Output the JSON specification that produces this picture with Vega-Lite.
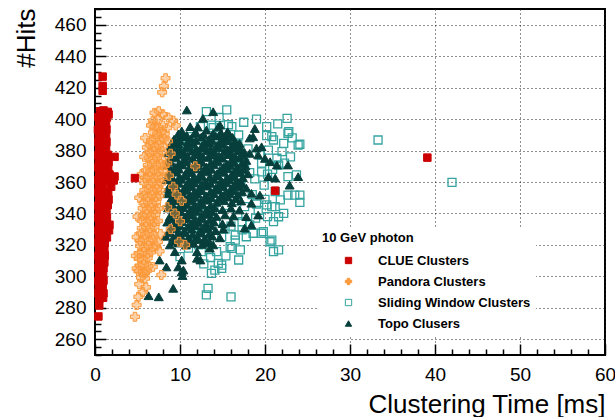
{
  "$schema": "https://vega.github.io/schema/vega-lite/v6.json",
  "width": 510,
  "height": 346,
  "autosize": "none",
  "padding": {"left": 95, "top": 9, "right": 10, "bottom": 62},
  "background": "white",
  "config": {
    "font": "Liberation Sans",
    "view": {"stroke": "black", "strokeWidth": 2}
  },
  "data": {"values": [
    {"alg":"S","t":33.3,"hits":386.7},{"alg":"S","t":42.0,"hits":359.8},{"alg":"S","t":24.1,"hits":384.0},{"alg":"S","t":24.1,"hits":347.0},
    {"alg":"S","t":23.2,"hits":388.0},{"alg":"S","t":15.5,"hits":405.8},{"alg":"S","t":13.1,"hits":404.7},{"alg":"S","t":13.7,"hits":396.2},
    {"alg":"S","t":15.7,"hits":396.4},{"alg":"S","t":12.4,"hits":395.2},{"alg":"S","t":13.9,"hits":394.6},{"alg":"S","t":16.1,"hits":395.2},
    {"alg":"S","t":16.9,"hits":389.9},{"alg":"S","t":20.2,"hits":395.2},{"alg":"S","t":22.6,"hits":400.5},{"alg":"S","t":20.8,"hits":388.8},
    {"alg":"S","t":20.2,"hits":389.5},{"alg":"S","t":21.0,"hits":386.7},{"alg":"S","t":22.2,"hits":384.6},{"alg":"S","t":23.9,"hits":383.5},
    {"alg":"S","t":20.4,"hits":380.3},{"alg":"S","t":22.0,"hits":379.3},{"alg":"S","t":21.4,"hits":375.1},{"alg":"S","t":19.4,"hits":377.2},
    {"alg":"S","t":11.2,"hits":388.8},{"alg":"S","t":10.8,"hits":382.4},{"alg":"S","t":22.7,"hits":363.4},{"alg":"S","t":23.7,"hits":364.5},
    {"alg":"S","t":21.2,"hits":353.9},{"alg":"S","t":21.8,"hits":348.6},{"alg":"S","t":23.5,"hits":351.7},{"alg":"S","t":21.2,"hits":344.3},
    {"alg":"S","t":21.0,"hits":334.8},{"alg":"S","t":19.8,"hits":328.4},{"alg":"S","t":18.6,"hits":327.4},{"alg":"S","t":17.3,"hits":329.5},
    {"alg":"S","t":16.5,"hits":323.1},{"alg":"S","t":17.8,"hits":325.2},{"alg":"S","t":20.6,"hits":322.0},{"alg":"S","t":21.0,"hits":315.7},
    {"alg":"S","t":21.6,"hits":316.8},{"alg":"S","t":16.9,"hits":310.4},{"alg":"S","t":14.3,"hits":315.7},{"alg":"S","t":14.9,"hits":307.2},
    {"alg":"S","t":14.1,"hits":304.0},{"alg":"S","t":13.7,"hits":301.9},{"alg":"S","t":15.9,"hits":318.9},{"alg":"S","t":10.0,"hits":312.5},
    {"alg":"S","t":17.1,"hits":353.8},{"alg":"S","t":17.6,"hits":344.3},{"alg":"S","t":17.3,"hits":334.8},{"alg":"S","t":18.2,"hits":332.7},
    {"alg":"S","t":16.5,"hits":326.3},{"alg":"S","t":16.1,"hits":317.8},{"alg":"S","t":14.9,"hits":325.2},{"alg":"S","t":12.5,"hits":315.7},
    {"alg":"S","t":14.5,"hits":308.3},{"alg":"S","t":14.9,"hits":305.1},{"alg":"S","t":13.3,"hits":292.4},{"alg":"S","t":13.1,"hits":288.2},
    {"alg":"S","t":16.0,"hits":287.0},{"alg":"S","t":17.1,"hits":316.8},{"alg":"S","t":19.6,"hits":327.4},{"alg":"S","t":20.8,"hits":323.1},
    {"alg":"S","t":20.8,"hits":344.3},{"alg":"S","t":19.6,"hits":372.0},{"alg":"S","t":20.9,"hits":368.0},{"alg":"S","t":22.3,"hits":372.0},
    {"alg":"S","t":19.9,"hits":358.0},{"alg":"S","t":22.7,"hits":351.7},{"alg":"S","t":18.8,"hits":362.0},{"alg":"S","t":20.0,"hits":349.0},
    {"alg":"S","t":19.2,"hits":342.0},{"alg":"S","t":22.2,"hits":340.0},{"alg":"S","t":20.3,"hits":338.0},{"alg":"S","t":18.9,"hits":337.0},
    {"alg":"S","t":22.8,"hits":392.0},{"alg":"S","t":21.5,"hits":397.0},{"alg":"S","t":19.0,"hits":400.0},{"alg":"S","t":17.5,"hits":398.0},
    {"alg":"S","t":14.6,"hits":401.0},{"alg":"S","t":16.8,"hits":384.0},{"alg":"S","t":18.0,"hits":381.0},{"alg":"S","t":23.0,"hits":376.0},
    {"alg":"S","t":20.3,"hits":365.0},{"alg":"S","t":22.7,"hits":391.0},{"alg":"S","t":21.6,"hits":370.8},{"alg":"S","t":19.6,"hits":366.5},
    {"alg":"S","t":20.2,"hits":345.4},{"alg":"S","t":21.6,"hits":337.9},{"alg":"S","t":24.1,"hits":351.7},
    {"alg":"S","t":12.5,"hits":330.0},{"alg":"S","t":13.5,"hits":322.0},{"alg":"S","t":14.2,"hits":335.0},{"alg":"S","t":15.8,"hits":340.0},
    {"alg":"S","t":16.4,"hits":348.0},{"alg":"S","t":15.0,"hits":356.0},{"alg":"S","t":17.2,"hits":362.0},{"alg":"S","t":16.6,"hits":370.0},
    {"alg":"S","t":13.0,"hits":340.0},{"alg":"S","t":11.8,"hits":326.0},{"alg":"S","t":12.2,"hits":320.0},{"alg":"S","t":15.3,"hits":330.0},
    {"alg":"S","t":14.0,"hits":345.0},{"alg":"S","t":16.0,"hits":332.0},{"alg":"S","t":13.6,"hits":312.0},{"alg":"S","t":15.4,"hits":313.0},
    {"alg":"S","t":11.0,"hits":318.0},{"alg":"S","t":12.8,"hits":308.0},{"alg":"S","t":17.6,"hits":372.0},{"alg":"S","t":18.2,"hits":366.0},
    {"alg":"S","t":15.0,"hits":378.0},{"alg":"S","t":17.0,"hits":378.0},{"alg":"S","t":12.0,"hits":384.0},{"alg":"S","t":14.4,"hits":388.0},
    {"alg":"S","t":18.5,"hits":352.0},{"alg":"S","t":19.0,"hits":346.0},{"alg":"S","t":10.5,"hits":330.0},{"alg":"S","t":11.5,"hits":340.0},
    {"alg":"S","t":9.8,"hits":355.0},{"alg":"S","t":16.8,"hits":339.0},{"alg":"S","t":10.6,"hits":383.5},

    {"alg":"T","t":10.8,"hits":405.8},{"alg":"T","t":13.9,"hits":404.7},{"alg":"T","t":12.7,"hits":400.5},{"alg":"T","t":11.2,"hits":395.2},
    {"alg":"T","t":12.1,"hits":395.0},{"alg":"T","t":14.5,"hits":395.0},{"alg":"T","t":15.6,"hits":392.0},{"alg":"T","t":18.8,"hits":394.0},
    {"alg":"T","t":18.2,"hits":388.0},{"alg":"T","t":19.0,"hits":381.6},{"alg":"T","t":20.0,"hits":375.0},{"alg":"T","t":21.4,"hits":370.8},
    {"alg":"T","t":20.4,"hits":363.4},{"alg":"T","t":21.2,"hits":362.5},{"alg":"T","t":23.9,"hits":363.4},{"alg":"T","t":22.9,"hits":358.0},
    {"alg":"T","t":19.4,"hits":351.7},{"alg":"T","t":18.4,"hits":332.7},{"alg":"T","t":19.2,"hits":339.0},{"alg":"T","t":17.8,"hits":338.0},
    {"alg":"T","t":9.4,"hits":315.7},{"alg":"T","t":10.2,"hits":310.4},{"alg":"T","t":12.4,"hits":310.4},{"alg":"T","t":13.9,"hits":320.0},
    {"alg":"T","t":10.4,"hits":304.0},{"alg":"T","t":7.6,"hits":310.4},{"alg":"T","t":8.4,"hits":306.0},{"alg":"T","t":9.8,"hits":306.0},
    {"alg":"T","t":10.2,"hits":302.8},{"alg":"T","t":12.0,"hits":311.5},{"alg":"T","t":9.2,"hits":292.4},{"alg":"T","t":6.3,"hits":287.7},
    {"alg":"T","t":7.5,"hits":287.0},{"alg":"T","t":10.3,"hits":300.5},{"alg":"T","t":12.0,"hits":315.7},{"alg":"T","t":13.5,"hits":318.0},
    {"alg":"T","t":17.1,"hits":360.2},{"alg":"T","t":18.4,"hits":352.8},{"alg":"T","t":17.6,"hits":330.7},{"alg":"T","t":18.6,"hits":388.8},
    {"alg":"T","t":16.5,"hits":383.5},{"alg":"T","t":19.6,"hits":382.4},{"alg":"T","t":18.2,"hits":378.2},{"alg":"T","t":19.2,"hits":377.2},
    {"alg":"T","t":20.6,"hits":372.9},{"alg":"T","t":22.7,"hits":370.8},{"alg":"T","t":18.4,"hits":346.5},{"alg":"T","t":17.0,"hits":342.2},
    {"alg":"T","t":10.0,"hits":388.8},{"alg":"T","t":9.0,"hits":384.6},{"alg":"T","t":14.7,"hits":396.2},{"alg":"T","t":15.5,"hits":391.0},
    {"alg":"T","t":10.2,"hits":392.5},{"alg":"T","t":11.9,"hits":391.2},{"alg":"T","t":13.1,"hits":393.0},{"alg":"T","t":14.8,"hits":391.5},
    {"alg":"T","t":9.3,"hits":387.2},{"alg":"T","t":10.4,"hits":388.9},{"alg":"T","t":11.3,"hits":387.5},{"alg":"T","t":12.5,"hits":388.6},
    {"alg":"T","t":13.4,"hits":387.0},{"alg":"T","t":14.2,"hits":389.2},{"alg":"T","t":15.3,"hits":387.8},{"alg":"T","t":16.2,"hits":388.4},
    {"alg":"T","t":8.9,"hits":383.0},{"alg":"T","t":9.8,"hits":384.4},{"alg":"T","t":10.8,"hits":382.9},{"alg":"T","t":11.6,"hits":384.2},
    {"alg":"T","t":12.6,"hits":383.1},{"alg":"T","t":13.5,"hits":384.6},{"alg":"T","t":14.3,"hits":382.8},{"alg":"T","t":15.1,"hits":384.0},
    {"alg":"T","t":16.1,"hits":383.2},{"alg":"T","t":17.0,"hits":384.5},
    {"alg":"T","t":8.6,"hits":378.6},{"alg":"T","t":9.6,"hits":379.8},{"alg":"T","t":10.5,"hits":378.4},{"alg":"T","t":11.4,"hits":379.6},
    {"alg":"T","t":12.3,"hits":378.2},{"alg":"T","t":13.2,"hits":380.0},{"alg":"T","t":14.1,"hits":378.7},{"alg":"T","t":15.2,"hits":379.4},
    {"alg":"T","t":16.0,"hits":378.3},{"alg":"T","t":16.9,"hits":379.9},{"alg":"T","t":17.6,"hits":378.8},
    {"alg":"T","t":8.7,"hits":374.0},{"alg":"T","t":9.5,"hits":375.3},{"alg":"T","t":10.4,"hits":373.8},{"alg":"T","t":11.5,"hits":375.0},
    {"alg":"T","t":12.3,"hits":374.2},{"alg":"T","t":13.3,"hits":375.6},{"alg":"T","t":14.2,"hits":373.9},{"alg":"T","t":15.0,"hits":375.1},
    {"alg":"T","t":16.1,"hits":374.4},{"alg":"T","t":17.0,"hits":375.4},{"alg":"T","t":17.8,"hits":373.7},
    {"alg":"T","t":8.5,"hits":370.4},{"alg":"T","t":9.4,"hits":369.5},{"alg":"T","t":10.3,"hits":370.8},{"alg":"T","t":11.2,"hits":369.3},
    {"alg":"T","t":12.2,"hits":370.5},{"alg":"T","t":13.1,"hits":369.6},{"alg":"T","t":14.0,"hits":370.9},{"alg":"T","t":15.1,"hits":369.4},
    {"alg":"T","t":15.9,"hits":370.6},{"alg":"T","t":16.8,"hits":369.2},{"alg":"T","t":17.7,"hits":370.3},
    {"alg":"T","t":8.6,"hits":365.0},{"alg":"T","t":9.6,"hits":366.2},{"alg":"T","t":10.6,"hits":364.9},{"alg":"T","t":11.4,"hits":366.0},
    {"alg":"T","t":12.4,"hits":365.3},{"alg":"T","t":13.3,"hits":366.4},{"alg":"T","t":14.3,"hits":365.1},{"alg":"T","t":15.2,"hits":366.1},
    {"alg":"T","t":16.1,"hits":364.8},{"alg":"T","t":17.1,"hits":365.9},{"alg":"T","t":18.0,"hits":365.2},
    {"alg":"T","t":8.4,"hits":361.5},{"alg":"T","t":9.3,"hits":360.4},{"alg":"T","t":10.2,"hits":361.7},{"alg":"T","t":11.1,"hits":360.6},
    {"alg":"T","t":12.1,"hits":361.3},{"alg":"T","t":13.0,"hits":360.2},{"alg":"T","t":14.0,"hits":361.6},{"alg":"T","t":14.9,"hits":360.5},
    {"alg":"T","t":15.8,"hits":361.4},{"alg":"T","t":16.7,"hits":360.8},
    {"alg":"T","t":8.6,"hits":356.0},{"alg":"T","t":9.5,"hits":357.2},{"alg":"T","t":10.5,"hits":355.9},{"alg":"T","t":11.4,"hits":357.0},
    {"alg":"T","t":12.3,"hits":356.3},{"alg":"T","t":13.2,"hits":357.4},{"alg":"T","t":14.2,"hits":356.1},{"alg":"T","t":15.1,"hits":357.1},
    {"alg":"T","t":16.0,"hits":355.8},{"alg":"T","t":16.9,"hits":356.9},{"alg":"T","t":17.8,"hits":356.2},
    {"alg":"T","t":8.5,"hits":352.5},{"alg":"T","t":9.4,"hits":351.4},{"alg":"T","t":10.3,"hits":352.7},{"alg":"T","t":11.2,"hits":351.6},
    {"alg":"T","t":12.1,"hits":352.3},{"alg":"T","t":13.1,"hits":351.2},{"alg":"T","t":14.0,"hits":352.6},{"alg":"T","t":14.9,"hits":351.5},
    {"alg":"T","t":15.9,"hits":352.4},{"alg":"T","t":16.8,"hits":351.8},
    {"alg":"T","t":8.7,"hits":347.0},{"alg":"T","t":9.6,"hits":348.2},{"alg":"T","t":10.5,"hits":346.9},{"alg":"T","t":11.5,"hits":348.0},
    {"alg":"T","t":12.4,"hits":347.3},{"alg":"T","t":13.3,"hits":348.4},{"alg":"T","t":14.3,"hits":347.1},{"alg":"T","t":15.2,"hits":348.1},
    {"alg":"T","t":16.1,"hits":346.8},{"alg":"T","t":17.2,"hits":347.9},
    {"alg":"T","t":8.6,"hits":343.5},{"alg":"T","t":9.5,"hits":342.4},{"alg":"T","t":10.4,"hits":343.7},{"alg":"T","t":11.3,"hits":342.6},
    {"alg":"T","t":12.2,"hits":343.3},{"alg":"T","t":13.2,"hits":342.2},{"alg":"T","t":14.1,"hits":343.6},{"alg":"T","t":15.0,"hits":342.5},
    {"alg":"T","t":16.0,"hits":343.4},
    {"alg":"T","t":8.8,"hits":338.0},{"alg":"T","t":9.7,"hits":339.2},{"alg":"T","t":10.6,"hits":337.9},{"alg":"T","t":11.5,"hits":339.0},
    {"alg":"T","t":12.5,"hits":338.3},{"alg":"T","t":13.4,"hits":339.4},{"alg":"T","t":14.3,"hits":338.1},{"alg":"T","t":15.3,"hits":339.1},
    {"alg":"T","t":16.3,"hits":338.4},
    {"alg":"T","t":8.5,"hits":334.5},{"alg":"T","t":9.4,"hits":333.4},{"alg":"T","t":10.3,"hits":334.7},{"alg":"T","t":11.3,"hits":333.6},
    {"alg":"T","t":12.2,"hits":334.3},{"alg":"T","t":13.1,"hits":333.2},{"alg":"T","t":14.0,"hits":334.6},{"alg":"T","t":15.0,"hits":333.5},
    {"alg":"T","t":16.0,"hits":334.4},
    {"alg":"T","t":8.7,"hits":329.0},{"alg":"T","t":9.6,"hits":330.2},{"alg":"T","t":10.5,"hits":328.9},{"alg":"T","t":11.4,"hits":330.0},
    {"alg":"T","t":12.4,"hits":329.3},{"alg":"T","t":13.3,"hits":330.4},{"alg":"T","t":14.2,"hits":329.1},{"alg":"T","t":15.1,"hits":330.1},
    {"alg":"T","t":8.3,"hits":325.5},{"alg":"T","t":9.2,"hits":324.4},{"alg":"T","t":10.1,"hits":325.7},{"alg":"T","t":11.0,"hits":324.6},
    {"alg":"T","t":12.0,"hits":325.3},{"alg":"T","t":12.9,"hits":324.2},{"alg":"T","t":13.8,"hits":325.6},{"alg":"T","t":14.7,"hits":324.5},
    {"alg":"T","t":8.8,"hits":320.0},{"alg":"T","t":9.8,"hits":321.2},{"alg":"T","t":10.7,"hits":319.9},{"alg":"T","t":11.6,"hits":321.0},
    {"alg":"T","t":12.6,"hits":320.3},{"alg":"T","t":13.5,"hits":321.4},
    {"alg":"T","t":9.8,"hits":390.6},{"alg":"T","t":10.8,"hits":389.7},{"alg":"T","t":11.7,"hits":390.9},{"alg":"T","t":12.8,"hits":390.0},
    {"alg":"T","t":13.9,"hits":390.8},{"alg":"T","t":14.8,"hits":389.5},{"alg":"T","t":15.8,"hits":390.3},
    {"alg":"T","t":9.1,"hits":385.3},{"alg":"T","t":10.0,"hits":386.2},{"alg":"T","t":10.9,"hits":385.4},{"alg":"T","t":11.9,"hits":386.4},
    {"alg":"T","t":12.9,"hits":385.2},{"alg":"T","t":13.8,"hits":386.1},{"alg":"T","t":14.7,"hits":385.5},{"alg":"T","t":15.6,"hits":386.3},{"alg":"T","t":16.5,"hits":385.6},
    {"alg":"T","t":9.1,"hits":381.6},{"alg":"T","t":10.0,"hits":380.8},{"alg":"T","t":10.9,"hits":381.7},{"alg":"T","t":11.9,"hits":380.7},
    {"alg":"T","t":12.8,"hits":381.5},{"alg":"T","t":13.6,"hits":380.9},{"alg":"T","t":14.6,"hits":381.8},{"alg":"T","t":15.6,"hits":380.6},
    {"alg":"T","t":16.4,"hits":381.4},{"alg":"T","t":17.2,"hits":380.8},
    {"alg":"T","t":9.0,"hits":376.3},{"alg":"T","t":10.0,"hits":377.2},{"alg":"T","t":10.9,"hits":376.4},{"alg":"T","t":11.8,"hits":377.3},
    {"alg":"T","t":12.7,"hits":376.2},{"alg":"T","t":13.7,"hits":377.1},{"alg":"T","t":14.6,"hits":376.5},{"alg":"T","t":15.6,"hits":377.4},
    {"alg":"T","t":16.5,"hits":376.3},{"alg":"T","t":17.3,"hits":377.0},
    {"alg":"T","t":8.9,"hits":372.6},{"alg":"T","t":9.9,"hits":371.8},{"alg":"T","t":10.8,"hits":372.7},{"alg":"T","t":11.7,"hits":371.7},
    {"alg":"T","t":12.6,"hits":372.5},{"alg":"T","t":13.6,"hits":371.9},{"alg":"T","t":14.5,"hits":372.8},{"alg":"T","t":15.5,"hits":371.6},
    {"alg":"T","t":16.4,"hits":372.4},{"alg":"T","t":17.3,"hits":371.8},
    {"alg":"T","t":9.0,"hits":367.3},{"alg":"T","t":9.9,"hits":368.2},{"alg":"T","t":10.9,"hits":367.4},{"alg":"T","t":11.8,"hits":368.3},
    {"alg":"T","t":12.8,"hits":367.2},{"alg":"T","t":13.7,"hits":368.1},{"alg":"T","t":14.7,"hits":367.5},{"alg":"T","t":15.6,"hits":368.4},
    {"alg":"T","t":16.5,"hits":367.3},{"alg":"T","t":17.5,"hits":368.0},
    {"alg":"T","t":9.0,"hits":363.6},{"alg":"T","t":9.9,"hits":362.8},{"alg":"T","t":10.7,"hits":363.7},{"alg":"T","t":11.6,"hits":362.7},
    {"alg":"T","t":12.6,"hits":363.5},{"alg":"T","t":13.5,"hits":362.9},{"alg":"T","t":14.5,"hits":363.8},{"alg":"T","t":15.5,"hits":362.6},
    {"alg":"T","t":16.4,"hits":363.4},{"alg":"T","t":17.4,"hits":362.8},
    {"alg":"T","t":8.9,"hits":358.3},{"alg":"T","t":9.9,"hits":359.2},{"alg":"T","t":10.8,"hits":358.4},{"alg":"T","t":11.7,"hits":359.3},
    {"alg":"T","t":12.6,"hits":358.2},{"alg":"T","t":13.6,"hits":359.1},{"alg":"T","t":14.6,"hits":358.5},{"alg":"T","t":15.5,"hits":359.4},
    {"alg":"T","t":16.4,"hits":358.3},{"alg":"T","t":17.3,"hits":359.0},
    {"alg":"T","t":8.9,"hits":354.6},{"alg":"T","t":9.8,"hits":353.8},{"alg":"T","t":10.8,"hits":354.7},{"alg":"T","t":11.7,"hits":353.7},
    {"alg":"T","t":12.6,"hits":354.5},{"alg":"T","t":13.6,"hits":353.9},{"alg":"T","t":14.5,"hits":354.8},{"alg":"T","t":15.4,"hits":353.6},
    {"alg":"T","t":16.3,"hits":354.4},{"alg":"T","t":17.3,"hits":353.8},
    {"alg":"T","t":9.0,"hits":349.3},{"alg":"T","t":10.0,"hits":350.2},{"alg":"T","t":10.9,"hits":349.4},{"alg":"T","t":11.8,"hits":350.3},
    {"alg":"T","t":12.8,"hits":349.2},{"alg":"T","t":13.7,"hits":350.1},{"alg":"T","t":14.7,"hits":349.5},{"alg":"T","t":15.6,"hits":350.4},
    {"alg":"T","t":16.6,"hits":349.3},
    {"alg":"T","t":9.1,"hits":345.6},{"alg":"T","t":10.0,"hits":344.8},{"alg":"T","t":10.8,"hits":345.7},{"alg":"T","t":11.7,"hits":344.7},
    {"alg":"T","t":12.7,"hits":345.5},{"alg":"T","t":13.6,"hits":344.9},
    {"alg":"T","t":9.2,"hits":340.3},{"alg":"T","t":10.1,"hits":341.2},{"alg":"T","t":11.0,"hits":340.4},{"alg":"T","t":11.9,"hits":341.3},
    {"alg":"T","t":12.9,"hits":340.2},{"alg":"T","t":13.8,"hits":341.1},
    {"alg":"T","t":9.0,"hits":336.6},{"alg":"T","t":9.9,"hits":335.8},{"alg":"T","t":10.8,"hits":336.7},{"alg":"T","t":11.7,"hits":335.7},
    {"alg":"T","t":12.6,"hits":336.5},{"alg":"T","t":13.5,"hits":335.9},
    {"alg":"T","t":9.1,"hits":331.3},{"alg":"T","t":10.0,"hits":332.2},{"alg":"T","t":10.9,"hits":331.4},{"alg":"T","t":11.8,"hits":332.3},
    {"alg":"T","t":12.8,"hits":331.2},{"alg":"T","t":13.7,"hits":332.1},
    {"alg":"T","t":8.8,"hits":327.6},{"alg":"T","t":9.7,"hits":326.8},{"alg":"T","t":10.6,"hits":327.7},{"alg":"T","t":11.5,"hits":326.7},
    {"alg":"T","t":12.5,"hits":327.5},{"alg":"T","t":13.4,"hits":326.9},
    {"alg":"T","t":9.3,"hits":322.3},{"alg":"T","t":10.2,"hits":323.2},{"alg":"T","t":11.1,"hits":322.4},{"alg":"T","t":12.1,"hits":323.3},
    {"alg":"T","t":13.0,"hits":322.2},

    {"alg":"P","t":8.3,"hits":426.0},{"alg":"P","t":8.1,"hits":421.0},{"alg":"P","t":7.9,"hits":417.0},{"alg":"P","t":7.0,"hits":404.0},
    {"alg":"P","t":7.5,"hits":405.0},{"alg":"P","t":8.0,"hits":403.0},{"alg":"P","t":8.6,"hits":401.0},{"alg":"P","t":9.2,"hits":399.0},
    {"alg":"P","t":6.8,"hits":399.0},{"alg":"P","t":7.4,"hits":400.0},{"alg":"P","t":9.5,"hits":396.0},{"alg":"P","t":6.6,"hits":396.0},
    {"alg":"P","t":7.0,"hits":395.3},{"alg":"P","t":7.5,"hits":394.6},{"alg":"P","t":8.0,"hits":395.8},{"alg":"P","t":8.5,"hits":394.4},
    {"alg":"P","t":6.8,"hits":391.4},{"alg":"P","t":7.3,"hits":390.5},{"alg":"P","t":7.8,"hits":391.7},{"alg":"P","t":8.2,"hits":390.8},
    {"alg":"P","t":6.6,"hits":386.6},{"alg":"P","t":7.1,"hits":387.5},{"alg":"P","t":7.6,"hits":386.8},{"alg":"P","t":8.1,"hits":387.3},
    {"alg":"P","t":6.5,"hits":383.4},{"alg":"P","t":7.0,"hits":382.6},{"alg":"P","t":7.5,"hits":383.7},{"alg":"P","t":8.0,"hits":382.8},
    {"alg":"P","t":6.4,"hits":378.7},{"alg":"P","t":6.9,"hits":379.5},{"alg":"P","t":7.4,"hits":378.5},{"alg":"P","t":7.9,"hits":379.3},
    {"alg":"P","t":6.3,"hits":375.4},{"alg":"P","t":6.8,"hits":374.6},{"alg":"P","t":7.3,"hits":375.6},{"alg":"P","t":7.8,"hits":374.7},
    {"alg":"P","t":6.2,"hits":370.6},{"alg":"P","t":6.7,"hits":371.5},{"alg":"P","t":7.2,"hits":370.5},{"alg":"P","t":7.7,"hits":371.4},{"alg":"P","t":8.2,"hits":370.8},
    {"alg":"P","t":6.0,"hits":367.3},{"alg":"P","t":6.5,"hits":366.5},{"alg":"P","t":7.0,"hits":367.6},{"alg":"P","t":7.5,"hits":366.7},{"alg":"P","t":8.0,"hits":367.2},
    {"alg":"P","t":5.9,"hits":362.6},{"alg":"P","t":6.4,"hits":363.5},{"alg":"P","t":6.9,"hits":362.5},{"alg":"P","t":7.4,"hits":363.4},{"alg":"P","t":7.9,"hits":362.8},
    {"alg":"P","t":5.8,"hits":359.4},{"alg":"P","t":6.3,"hits":358.5},{"alg":"P","t":6.8,"hits":359.6},{"alg":"P","t":7.3,"hits":358.7},{"alg":"P","t":7.8,"hits":359.2},
    {"alg":"P","t":5.8,"hits":354.6},{"alg":"P","t":6.3,"hits":355.5},{"alg":"P","t":6.8,"hits":354.5},{"alg":"P","t":7.3,"hits":355.4},{"alg":"P","t":7.7,"hits":354.8},
    {"alg":"P","t":5.7,"hits":351.3},{"alg":"P","t":6.2,"hits":350.5},{"alg":"P","t":6.7,"hits":351.6},{"alg":"P","t":7.2,"hits":350.7},{"alg":"P","t":7.6,"hits":351.2},
    {"alg":"P","t":5.7,"hits":346.6},{"alg":"P","t":6.2,"hits":347.5},{"alg":"P","t":6.7,"hits":346.5},{"alg":"P","t":7.2,"hits":347.4},
    {"alg":"P","t":5.6,"hits":343.3},{"alg":"P","t":6.1,"hits":342.5},{"alg":"P","t":6.6,"hits":343.6},{"alg":"P","t":7.1,"hits":342.7},{"alg":"P","t":7.5,"hits":343.2},
    {"alg":"P","t":5.6,"hits":338.6},{"alg":"P","t":6.1,"hits":339.5},{"alg":"P","t":6.6,"hits":338.5},{"alg":"P","t":7.1,"hits":339.4},
    {"alg":"P","t":5.5,"hits":335.4},{"alg":"P","t":6.0,"hits":334.6},{"alg":"P","t":6.5,"hits":335.6},{"alg":"P","t":7.0,"hits":334.7},{"alg":"P","t":7.4,"hits":335.2},
    {"alg":"P","t":5.5,"hits":330.6},{"alg":"P","t":6.0,"hits":331.5},{"alg":"P","t":6.5,"hits":330.5},{"alg":"P","t":7.0,"hits":331.4},
    {"alg":"P","t":5.4,"hits":327.3},{"alg":"P","t":5.9,"hits":326.5},{"alg":"P","t":6.4,"hits":327.6},{"alg":"P","t":6.9,"hits":326.7},
    {"alg":"P","t":5.3,"hits":322.6},{"alg":"P","t":5.8,"hits":323.5},{"alg":"P","t":6.3,"hits":322.5},{"alg":"P","t":6.8,"hits":323.4},
    {"alg":"P","t":5.3,"hits":319.4},{"alg":"P","t":5.8,"hits":318.6},{"alg":"P","t":6.3,"hits":319.6},{"alg":"P","t":6.8,"hits":318.7},{"alg":"P","t":7.2,"hits":319.2},
    {"alg":"P","t":5.2,"hits":314.6},{"alg":"P","t":5.7,"hits":315.5},{"alg":"P","t":6.2,"hits":314.5},{"alg":"P","t":6.6,"hits":315.4},
    {"alg":"P","t":5.2,"hits":311.3},{"alg":"P","t":5.7,"hits":310.5},{"alg":"P","t":6.2,"hits":311.6},
    {"alg":"P","t":5.3,"hits":306.6},{"alg":"P","t":5.8,"hits":307.5},{"alg":"P","t":6.3,"hits":306.5},
    {"alg":"P","t":5.1,"hits":303.4},{"alg":"P","t":5.6,"hits":302.6},{"alg":"P","t":6.1,"hits":303.6},
    {"alg":"P","t":5.4,"hits":299.3},{"alg":"P","t":5.9,"hits":298.7},
    {"alg":"P","t":5.9,"hits":302.0},{"alg":"P","t":5.2,"hits":295.0},{"alg":"P","t":6.0,"hits":293.0},{"alg":"P","t":5.6,"hits":290.0},
    {"alg":"P","t":5.1,"hits":287.0},{"alg":"P","t":4.9,"hits":281.8},{"alg":"P","t":4.7,"hits":274.3},{"alg":"P","t":7.8,"hits":300.9},
    {"alg":"P","t":4.9,"hits":305.0},{"alg":"P","t":4.8,"hits":313.0},{"alg":"P","t":6.8,"hits":306.0},
    {"alg":"P","t":8.6,"hits":386.0},{"alg":"P","t":8.9,"hits":378.0},{"alg":"P","t":8.5,"hits":372.0},{"alg":"P","t":8.7,"hits":364.0},
    {"alg":"P","t":9.2,"hits":357.0},{"alg":"P","t":9.6,"hits":352.0},{"alg":"P","t":10.2,"hits":348.0},{"alg":"P","t":11.8,"hits":370.0},
    {"alg":"P","t":9.9,"hits":322.0},{"alg":"P","t":10.6,"hits":320.0},{"alg":"P","t":9.4,"hits":340.0},{"alg":"P","t":10.0,"hits":335.0},
    {"alg":"P","t":8.5,"hits":344.0},{"alg":"P","t":8.9,"hits":330.0},{"alg":"P","t":7.7,"hits":327.0},{"alg":"P","t":7.6,"hits":316.0},
    {"alg":"P","t":7.4,"hits":322.0},
    {"alg":"P","t":5.9,"hits":388.0},{"alg":"P","t":6.1,"hits":382.0},{"alg":"P","t":5.8,"hits":376.0},{"alg":"P","t":5.5,"hits":365.0},
    {"alg":"P","t":5.2,"hits":350.0},{"alg":"P","t":5.0,"hits":338.0},{"alg":"P","t":4.9,"hits":325.0},

    {"alg":"C","t":0.9,"hits":427.0},{"alg":"C","t":0.9,"hits":421.0},{"alg":"C","t":0.9,"hits":418.0},
    {"alg":"C","t":0.6,"hits":405.0},{"alg":"C","t":1.0,"hits":405.5},{"alg":"C","t":1.5,"hits":404.6},{"alg":"C","t":1.6,"hits":403.0},
    {"alg":"C","t":0.4,"hits":401.3},{"alg":"C","t":0.9,"hits":400.6},{"alg":"C","t":1.4,"hits":401.0},
    {"alg":"C","t":0.5,"hits":396.6},{"alg":"C","t":0.95,"hits":397.4},{"alg":"C","t":1.3,"hits":396.8},
    {"alg":"C","t":0.35,"hits":393.2},{"alg":"C","t":0.8,"hits":392.5},{"alg":"C","t":1.35,"hits":393.4},
    {"alg":"C","t":0.45,"hits":388.7},{"alg":"C","t":0.9,"hits":389.5},{"alg":"C","t":1.3,"hits":388.8},
    {"alg":"C","t":0.4,"hits":385.3},{"alg":"C","t":0.85,"hits":384.6},{"alg":"C","t":1.35,"hits":385.4},
    {"alg":"C","t":0.5,"hits":380.7},{"alg":"C","t":0.9,"hits":381.4},{"alg":"C","t":1.3,"hits":380.8},
    {"alg":"C","t":0.4,"hits":377.2},{"alg":"C","t":0.9,"hits":376.6},{"alg":"C","t":1.5,"hits":377.3},{"alg":"C","t":2.3,"hits":376.0},
    {"alg":"C","t":0.45,"hits":372.7},{"alg":"C","t":1.0,"hits":373.4},{"alg":"C","t":1.6,"hits":372.8},
    {"alg":"C","t":0.4,"hits":369.3},{"alg":"C","t":0.85,"hits":368.6},{"alg":"C","t":1.55,"hits":369.2},
    {"alg":"C","t":0.5,"hits":364.7},{"alg":"C","t":1.0,"hits":365.4},{"alg":"C","t":1.7,"hits":364.8},{"alg":"C","t":2.3,"hits":363.5},
    {"alg":"C","t":0.4,"hits":361.2},{"alg":"C","t":0.9,"hits":360.6},{"alg":"C","t":1.5,"hits":361.3},{"alg":"C","t":2.2,"hits":361.0},
    {"alg":"C","t":0.45,"hits":356.7},{"alg":"C","t":0.95,"hits":357.4},{"alg":"C","t":1.9,"hits":357.0},
    {"alg":"C","t":0.4,"hits":353.3},{"alg":"C","t":0.9,"hits":352.6},{"alg":"C","t":1.55,"hits":353.2},
    {"alg":"C","t":0.5,"hits":348.7},{"alg":"C","t":1.0,"hits":349.4},{"alg":"C","t":1.6,"hits":348.8},
    {"alg":"C","t":0.4,"hits":345.2},{"alg":"C","t":0.9,"hits":344.6},{"alg":"C","t":1.5,"hits":345.3},
    {"alg":"C","t":0.45,"hits":340.7},{"alg":"C","t":0.85,"hits":341.4},{"alg":"C","t":1.35,"hits":340.8},
    {"alg":"C","t":0.4,"hits":337.3},{"alg":"C","t":0.9,"hits":336.6},{"alg":"C","t":1.4,"hits":337.2},
    {"alg":"C","t":0.5,"hits":332.7},{"alg":"C","t":1.0,"hits":333.4},{"alg":"C","t":1.7,"hits":332.8},
    {"alg":"C","t":0.4,"hits":329.2},{"alg":"C","t":0.9,"hits":328.6},{"alg":"C","t":1.65,"hits":329.3},
    {"alg":"C","t":0.45,"hits":324.7},{"alg":"C","t":0.95,"hits":325.4},{"alg":"C","t":1.4,"hits":324.8},
    {"alg":"C","t":0.4,"hits":321.3},{"alg":"C","t":0.8,"hits":320.6},{"alg":"C","t":1.15,"hits":321.2},
    {"alg":"C","t":0.5,"hits":316.7},{"alg":"C","t":0.9,"hits":317.4},{"alg":"C","t":1.1,"hits":316.8},
    {"alg":"C","t":0.4,"hits":313.2},{"alg":"C","t":0.85,"hits":312.6},{"alg":"C","t":1.15,"hits":313.3},
    {"alg":"C","t":0.45,"hits":308.7},{"alg":"C","t":0.9,"hits":309.4},{"alg":"C","t":1.1,"hits":308.8},
    {"alg":"C","t":0.4,"hits":305.3},{"alg":"C","t":0.8,"hits":304.6},{"alg":"C","t":1.0,"hits":305.2},
    {"alg":"C","t":0.5,"hits":300.7},{"alg":"C","t":0.95,"hits":301.4},
    {"alg":"C","t":0.4,"hits":297.2},{"alg":"C","t":0.85,"hits":296.6},{"alg":"C","t":1.0,"hits":297.3},
    {"alg":"C","t":0.45,"hits":292.7},{"alg":"C","t":0.9,"hits":293.4},
    {"alg":"C","t":0.4,"hits":289.3},{"alg":"C","t":0.8,"hits":288.6},{"alg":"C","t":1.0,"hits":289.2},
    {"alg":"C","t":0.5,"hits":285.7},{"alg":"C","t":0.95,"hits":286.4},
    {"alg":"C","t":0.5,"hits":281.5},{"alg":"C","t":0.4,"hits":274.5},
    {"alg":"C","t":4.7,"hits":362.5},{"alg":"C","t":39.1,"hits":375.5},{"alg":"C","t":21.2,"hits":354.5}
  ]},
  "encoding": {
    "x": {"field": "t", "type": "quantitative", "scale": {"domain": [0, 60], "nice": false, "zero": false}, "axis": null},
    "y": {"field": "hits", "type": "quantitative", "scale": {"domain": [250, 470], "nice": false, "zero": false}, "axis": null}
  },
  "layer": [
    {
      "encoding": {
        "x": {
          "field": "t", "type": "quantitative",
          "scale": {"domain": [0, 60], "nice": false, "zero": false},
          "axis": {
            "orient": "bottom",
            "title": "Clustering Time [ms]",
            "values": [0, 10, 20, 30, 40, 50, 60],
            "domain": false,
            "grid": true, "gridColor": "#222222", "gridDash": [1, 3], "gridWidth": 1,
            "ticks": true, "tickColor": "black", "tickWidth": 1.5, "tickSize": 11, "offset": -11,
            "labelFontSize": 19, "labelColor": "black", "labelPadding": 10, "labelFlush": false, "labelOverlap": false,
            "titleFontSize": 26, "titleFontWeight": "normal", "titleColor": "black",
            "titleAlign": "right", "titleBaseline": "alphabetic", "titleX": 510, "titleY": 68
          }
        },
        "y": {
          "field": "hits", "type": "quantitative",
          "scale": {"domain": [250, 470], "nice": false, "zero": false},
          "axis": {
            "orient": "left",
            "title": "#Hits",
            "values": [260, 280, 300, 320, 340, 360, 380, 400, 420, 440, 460],
            "domain": false,
            "grid": true, "gridColor": "#222222", "gridDash": [1, 3], "gridWidth": 1,
            "ticks": true, "tickColor": "black", "tickWidth": 1.5, "tickSize": 11, "offset": -11,
            "labelFontSize": 19, "labelColor": "black", "labelPadding": 9, "labelOverlap": false, "labelFlush": false,
            "titleFontSize": 26, "titleFontWeight": "normal", "titleColor": "black",
            "titleAngle": 270, "titleAlign": "right", "titleBaseline": "alphabetic", "titleX": -72, "titleY": -1
          }
        },
        "fill": {
          "field": "alg", "type": "nominal",
          "scale": {"domain": ["C", "P", "S", "T"], "range": ["#cc0000", "#fb9a3c", "transparent", "#073f3c"]},
          "legend": {"title": "10 GeV photon", "orient": "none", "legendX": 222, "legendY": 218, "padding": 5, "fillColor": "white",
            "titleFontSize": 13, "titleFontWeight": "bold", "titleColor": "black", "titlePadding": 9,
            "labelFontSize": 13, "labelFontWeight": "bold", "labelColor": "black", "labelOffset": 23, "symbolOffset": 20,
            "rowPadding": 7, "symbolSize": 40, "symbolStrokeWidth": 1, "symbolOpacity": 1,
            "labelExpr": "datum.label == 'C' ? 'CLUE Clusters' : datum.label == 'P' ? 'Pandora Clusters' : datum.label == 'S' ? 'Sliding Window Clusters' : 'Topo Clusers'"}
        },
        "stroke": {
          "field": "alg", "type": "nominal",
          "scale": {"domain": ["C", "P", "S", "T"], "range": ["#cc0000", "#fb9a3c", "#35a4a0", "#073f3c"]},
          "legend": {"title": "10 GeV photon", "orient": "none", "legendX": 222, "legendY": 218, "padding": 5, "fillColor": "white",
            "titleFontSize": 13, "titleFontWeight": "bold", "titleColor": "black", "titlePadding": 9,
            "labelFontSize": 13, "labelFontWeight": "bold", "labelColor": "black", "labelOffset": 23, "symbolOffset": 20,
            "rowPadding": 7, "symbolSize": 40, "symbolStrokeWidth": 1, "symbolOpacity": 1,
            "labelExpr": "datum.label == 'C' ? 'CLUE Clusters' : datum.label == 'P' ? 'Pandora Clusters' : datum.label == 'S' ? 'Sliding Window Clusters' : 'Topo Clusers'"}
        },
        "shape": {
          "field": "alg", "type": "nominal",
          "scale": {"domain": ["C", "P", "S", "T"], "range": ["square", "cross", "square", "triangle-up"]},
          "legend": {"title": "10 GeV photon", "orient": "none", "legendX": 222, "legendY": 218, "padding": 5, "fillColor": "white",
            "titleFontSize": 13, "titleFontWeight": "bold", "titleColor": "black", "titlePadding": 9,
            "labelFontSize": 13, "labelFontWeight": "bold", "labelColor": "black", "labelOffset": 23, "symbolOffset": 20,
            "rowPadding": 7, "symbolSize": 40, "symbolStrokeWidth": 1, "symbolOpacity": 1,
            "labelExpr": "datum.label == 'C' ? 'CLUE Clusters' : datum.label == 'P' ? 'Pandora Clusters' : datum.label == 'S' ? 'Sliding Window Clusters' : 'Topo Clusers'"}
        }
      },
      "layer": [
        {"transform": [{"filter": "datum.alg === 'S'"}], "mark": {"type": "point", "size": 64, "strokeWidth": 1.3, "opacity": 1}},
        {"transform": [{"filter": "datum.alg === 'T'"}], "mark": {"type": "point", "size": 80, "strokeWidth": 1, "opacity": 1}},
        {"transform": [{"filter": "datum.alg === 'P'"}], "mark": {"type": "point", "size": 80, "strokeWidth": 1, "opacity": 1, "fillOpacity": 0.45}},
        {"transform": [{"filter": "datum.alg === 'C'"}], "mark": {"type": "point", "size": 56, "strokeWidth": 1, "opacity": 1}}
      ]
    },
    {
      "mark": {"type": "point", "opacity": 0},
      "encoding": {
        "x": {
          "field": "t", "type": "quantitative",
          "scale": {"domain": [0, 60], "nice": false, "zero": false},
          "axis": {
            "orient": "bottom", "title": null, "labels": false, "grid": false, "domain": false,
            "values": [2,4,6,8,12,14,16,18,22,24,26,28,32,34,36,38,42,44,46,48,52,54,56,58],
            "ticks": true, "tickColor": "black", "tickWidth": 1.5, "tickSize": 6, "offset": -6
          }
        },
        "y": {
          "field": "hits", "type": "quantitative",
          "scale": {"domain": [250, 470], "nice": false, "zero": false},
          "axis": {
            "orient": "left", "title": null, "labels": false, "grid": false, "domain": false,
            "values": [250,255,265,270,275,285,290,295,305,310,315,325,330,335,345,350,355,365,370,375,385,390,395,405,410,415,425,430,435,445,450,455,465,470],
            "ticks": true, "tickColor": "black", "tickWidth": 1.5, "tickSize": 6, "offset": -6
          }
        }
      }
    }
  ],
  "resolve": {"axis": {"x": "independent", "y": "independent"}}
}
